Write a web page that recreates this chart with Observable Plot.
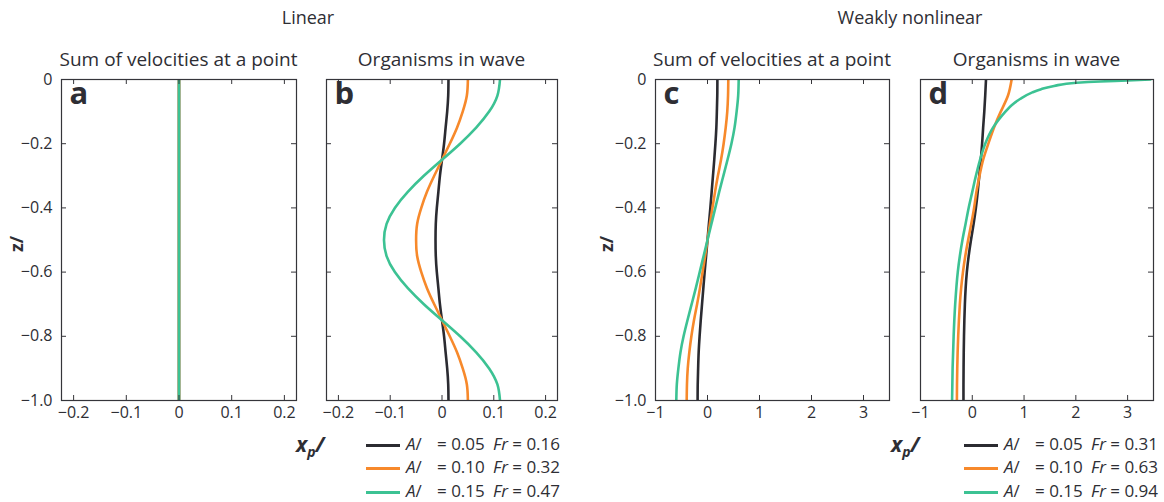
<!DOCTYPE html>
<html>
<head>
<meta charset="utf-8">
<script src="https://cdn.jsdelivr.net/npm/d3@7"></script>
<script src="https://cdn.jsdelivr.net/npm/@observablehq/plot@0.6"></script>
<style>
  body { margin: 0; background: #fff; }
  #fig { position: relative; width: 1164px; height: 502px; overflow: hidden;
         font-family: "Open Sans", Lato, sans-serif; color: #2e2e34; }
  .t { position: absolute; white-space: nowrap; line-height: 1; }
  .panel { position: absolute; }
  .sw { position: absolute; height: 3px; }
  .it { font-style: italic; }
</style>
</head>
<body>
<div id="fig"></div>
<script>
// Depth (z) samples shared by most profiles
const depth = [0, -0.05, -0.1, -0.15, -0.2, -0.25, -0.3, -0.35, -0.4, -0.45, -0.5,
               -0.55, -0.6, -0.65, -0.7, -0.75, -0.8, -0.85, -0.9, -0.95, -1];
// Finer depth samples for the steep surface profile in panel d
const depthNear = [0, -0.003, -0.006, -0.01, -0.02, -0.03, -0.04, -0.06, -0.08, -0.1, -0.125,
                   -0.15, -0.2, -0.25, -0.3, -0.35, -0.4, -0.45, -0.5, -0.55, -0.6, -0.7, -0.8, -0.9, -1];

// Series names, colours and legend values
const seriesKeys = ["A05", "A10", "A15"];
const seriesColors = ["#2b2b31", "#f7892b", "#3cc293"];
const amplitudeLabels = ["0.05", "0.10", "0.15"];
const froudeLinear = ["0.16", "0.32", "0.47"];
const froudeNonlinear = ["0.31", "0.63", "0.94"];

// Tick values
const xTicksLinear = [-0.2, -0.1, 0, 0.1, 0.2];
const xTicksNonlinear = [-1, 0, 1, 2, 3];
const yTicks = [0, -0.2, -0.4, -0.6, -0.8, -1];

// (a) Linear: sum of velocities at a point
const sumLinear = [0, 0, 0, 0, 0, 0, 0, 0, 0, 0, 0, 0, 0, 0, 0, 0, 0, 0, 0, 0, 0];

// (b) Linear: organisms in wave
const waveLinearA05 = [0.0125, 0.012, 0.010, 0.007, 0.004, 0, -0.004, -0.007, -0.010, -0.012, -0.0125,
                       -0.012, -0.010, -0.007, -0.004, 0, 0.004, 0.007, 0.010, 0.012, 0.0125];
const waveLinearA10 = [0.050, 0.048, 0.040, 0.029, 0.015, 0, -0.015, -0.029, -0.040, -0.048, -0.050,
                       -0.048, -0.040, -0.029, -0.015, 0, 0.015, 0.029, 0.040, 0.048, 0.050];
const waveLinearA15 = [0.112, 0.107, 0.091, 0.066, 0.035, 0, -0.035, -0.066, -0.091, -0.107, -0.112,
                       -0.107, -0.091, -0.066, -0.035, 0, 0.035, 0.066, 0.091, 0.107, 0.112];

// (c) Weakly nonlinear: sum of velocities at a point
const sumNonlinA05 = [0.19, 0.188, 0.18, 0.17, 0.152, 0.13, 0.105, 0.08, 0.055, 0.027, 0,
                      -0.027, -0.055, -0.08, -0.105, -0.13, -0.152, -0.17, -0.18, -0.188, -0.19];
const sumNonlinA10 = [0.40, 0.395, 0.38, 0.35, 0.31, 0.26, 0.20, 0.145, 0.095, 0.046, 0,
                      -0.046, -0.095, -0.145, -0.20, -0.26, -0.31, -0.35, -0.38, -0.395, -0.40];
const sumNonlinA15 = [0.60, 0.59, 0.56, 0.52, 0.46, 0.385, 0.305, 0.225, 0.15, 0.075, 0,
                      -0.075, -0.15, -0.225, -0.305, -0.385, -0.46, -0.52, -0.56, -0.59, -0.60];

// (d) Weakly nonlinear: organisms in wave
const waveNonlinA05 = [0.265, 0.25, 0.232, 0.21, 0.19, 0.165, 0.135, 0.105, 0.07, 0.025, -0.025,
                       -0.07, -0.105, -0.128, -0.143, -0.153, -0.16, -0.165, -0.168, -0.17, -0.17];
const waveNonlinA10 = [0.76, 0.69, 0.55, 0.42, 0.31, 0.21, 0.14, 0.08, 0.035, -0.02, -0.08,
                       -0.135, -0.18, -0.215, -0.24, -0.258, -0.272, -0.283, -0.29, -0.295, -0.297];
const waveNonlinA15 = [3.44, 3.0, 2.47, 2.02, 1.58, 1.33, 1.16, 0.93, 0.76, 0.64, 0.51,
                       0.40, 0.25, 0.15, 0.07, 0.0, -0.07, -0.13, -0.19, -0.24, -0.28, -0.33, -0.36, -0.38, -0.39];

const fig = document.getElementById("fig");
const FONT = "'Open Sans', Lato, sans-serif";
const INK = "#2e2e34";

function addText(str, left, top, css) {
  const el = document.createElement("div");
  el.className = "t";
  el.innerHTML = str;
  el.style.left = left + "px";
  el.style.top = top + "px";
  Object.assign(el.style, css || {});
  fig.appendChild(el);
  return el;
}

const fmtLinear = d => d === 0 ? "0" : (d < 0 ? "\u2212" : "") + Math.abs(d).toFixed(1);
const fmtNonlin = d => (d < 0 ? "\u2212" : "") + Math.abs(d);
const fmtY = d => d === 0 ? "0" : (d < 0 ? "\u2212" : "") + Math.abs(d).toFixed(1);

const frameTop = 79, frameH = 321;

function drawPanel(p) {
  const mL = 62, mR = 22, mT = 6, mB = 34;
  const fw = p.width;
  // one line mark per series, drawn in legend order so the last one sits on top
  const lines = p.series.map((s, k) =>
    Plot.line(s.x.map((v, i) => ({x: v, z: s.z[i], key: seriesKeys[k]})),
      {x: "x", y: "z", stroke: "key", strokeWidth: 2.6,
       curve: s.z === depth ? "natural" : "monotone-y", clip: true}));
  const svg = Plot.plot({
    width: fw + mL + mR,
    height: frameH + mT + mB,
    marginLeft: mL, marginRight: mR, marginTop: mT, marginBottom: mB,
    style: {background: "transparent", fontFamily: FONT,
            fontSize: "16px", color: INK, overflow: "visible"},
    x: {domain: p.xDomain, axis: null},
    y: {domain: [-1, 0], axis: null},
    color: {type: "ordinal", domain: seriesKeys, range: seriesColors},
    marks: [
      ...lines,
      Plot.frame({stroke: "#35353a", strokeWidth: 1.2}),
      Plot.tickX(p.xTicks, {x: d => d, insetTop: frameH - 5, stroke: "#35353a"}),
      Plot.tickX(p.xTicks, {x: d => d, insetBottom: frameH - 5, stroke: "#35353a"}),
      Plot.tickY(yTicks, {y: d => d, insetRight: fw - 5, stroke: "#35353a"}),
      Plot.tickY(yTicks, {y: d => d, insetLeft: fw - 5, stroke: "#35353a"}),
      Plot.axisX({ticks: p.xTicks, tickSize: 0, tickPadding: 6, tickFormat: p.fmt, label: null}),
      p.yLabels ? Plot.axisY({ticks: yTicks, tickSize: 0, tickPadding: 9, tickFormat: fmtY, label: null}) : null,
      Plot.text([p.letter], {frameAnchor: "top-left", dx: 8, dy: 2, lineAnchor: "top",
                             textAnchor: "start", fontSize: 31, fontWeight: "bold", fill: INK})
    ]
  });
  svg.classList.add("panel");
  svg.style.left = (p.left - mL) + "px";
  svg.style.top = (frameTop - mT) + "px";
  fig.appendChild(svg);

  // panel title, centred over the frame
  const title = addText(p.title, 0, 0, {fontSize: "19px"});
  title.style.left = (p.left + fw / 2) + "px";
  title.style.top = "50px";
  title.style.transform = "translateX(-50%)";
}

const panels = [
  {letter: "a", left: 61, width: 235, xDomain: [-0.223, 0.223], xTicks: xTicksLinear, fmt: fmtLinear,
   yLabels: true, title: "Sum of velocities at a point",
   series: [{z: depth, x: sumLinear}, {z: depth, x: sumLinear}, {z: depth, x: sumLinear}]},
  {letter: "b", left: 326, width: 231, xDomain: [-0.223, 0.223], xTicks: xTicksLinear, fmt: fmtLinear,
   yLabels: false, title: "Organisms in wave",
   series: [{z: depth, x: waveLinearA05}, {z: depth, x: waveLinearA10}, {z: depth, x: waveLinearA15}]},
  {letter: "c", left: 655, width: 234, xDomain: [-1, 3.5], xTicks: xTicksNonlinear, fmt: fmtNonlin,
   yLabels: true, title: "Sum of velocities at a point",
   series: [{z: depth, x: sumNonlinA05}, {z: depth, x: sumNonlinA10}, {z: depth, x: sumNonlinA15}]},
  {letter: "d", left: 920, width: 233, xDomain: [-1, 3.5], xTicks: xTicksNonlinear, fmt: fmtNonlin,
   yLabels: false, title: "Organisms in wave",
   series: [{z: depth, x: waveNonlinA05}, {z: depth, x: waveNonlinA10}, {z: depthNear, x: waveNonlinA15}]}
];
panels.forEach(drawPanel);

// Group titles
addText("Linear", 308, 8, {fontSize: "18px", transform: "translateX(-50%)"});
addText("Weakly nonlinear", 910, 8, {fontSize: "18px", transform: "translateX(-50%)"});

// Vertical axis labels
[16, 606].forEach(x => {
  addText("z/", x, 244, {fontSize: "18px", fontWeight: "bold",
    transform: "translate(-50%, -50%) rotate(-90deg)"});
});

// Horizontal axis labels and legends
[[296, froudeLinear, 366], [891, froudeNonlinear, 964]].forEach(([lx, fr, sx]) => {
  addText("x<sub style='font-size:14px;vertical-align:-5px'>p</sub>/", lx, 434,
          {fontSize: "21px", fontWeight: "bold", fontStyle: "italic"});
  const rowY = [445, 468, 492];
  rowY.forEach((y, k) => {
    const sw = document.createElement("div");
    sw.className = "sw";
    sw.style.left = sx + "px";
    sw.style.width = "34px";
    sw.style.top = (y - 1.5) + "px";
    sw.style.background = seriesColors[k];
    fig.appendChild(sw);
    addText("<span class='it'>A</span>/", sx + 40, y - 10, {fontSize: "17px"});
    addText("= " + amplitudeLabels[k], sx + 71, y - 10, {fontSize: "17px"});
    addText("<span class='it'>Fr</span> = " + fr[k], sx + 127, y - 10, {fontSize: "17px"});
  });
});
</script>
</body>
</html>
